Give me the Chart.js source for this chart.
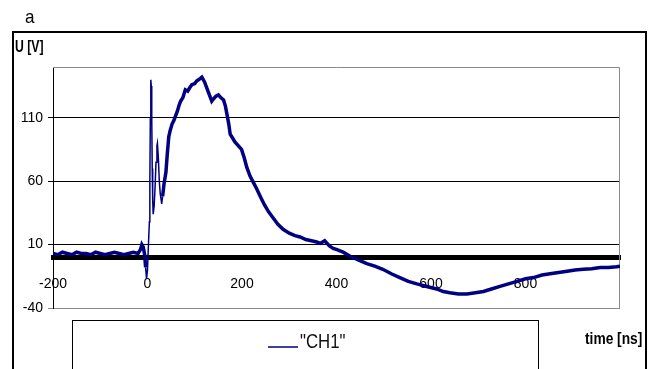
<!DOCTYPE html>
<html>
<head>
<meta charset="utf-8">
<script src="https://cdn.jsdelivr.net/npm/chart.js@4.4.1/dist/chart.umd.min.js"></script>
<style>
  html, body { margin: 0; padding: 0; background: #fff; }
  #wrap { width: 650px; height: 369px; }
</style>
</head>
<body>
<div id="wrap"><canvas id="scope"></canvas></div>
<script>
// oscilloscope trace (time in ns, voltage in V)
const timeNs = [
  -200, -190, -180, -170, -160, -150, -140, -130, -120, -110, -100, -90, -80, -70, -60, -50, -40, -30, -20,
  -15, -12, -9, -6, -4, -2, 0, 2, 4, 5, 6, 7, 8, 9, 10, 11, 12, 14, 16, 18, 20, 21, 23, 25, 27, 29, 30,
  32, 35, 39, 42, 45, 48, 52, 56, 59, 63, 67, 70, 75, 80, 85, 90, 94, 100, 104, 108, 112, 115, 118,
  121, 124, 128, 132, 136, 140, 145, 150, 155, 161, 165, 168, 172, 175, 180, 185, 192, 199, 205, 210,
  217, 224, 231, 240, 248, 256, 266, 276, 287, 300, 312, 323, 335, 347, 358, 366, 375, 385, 393, 401,
  414, 428, 446, 464, 481, 498, 516, 534, 552, 570, 591, 612, 626, 640, 658, 676, 694, 711, 728, 746,
  764, 782, 800, 817, 835, 852, 870, 888, 905, 922, 940, 958, 975, 993, 1000
];
const volts = [
  3, 2, 4, 3, 2, 4, 3, 3, 2, 4, 3, 2, 3, 4, 3, 2, 3, 4, 3,
  6, 10, 8, 2, -8, -17, -10, 10, 28, 60, 110, 140, 135, 110, 70, 45, 34, 40, 55, 75, 88, 90, 78, 60, 50, 45, 42,
  48, 58, 67, 82, 95, 100, 105, 108, 111, 115, 120, 123, 126, 132, 131, 134, 136, 137, 139, 140, 141, 142, 140,
  138, 135, 131, 127, 123, 125, 127, 128, 126, 124, 119, 113, 105, 97, 94, 91, 88, 85, 78, 71,
  64, 59, 54, 47, 41, 36, 31, 26, 22, 19, 17, 16, 14, 13, 12, 11, 13, 9, 7, 6,
  4, 1, -2, -5, -7, -9.5, -13, -16, -19, -21, -23, -25, -27, -28, -29, -29, -28, -27, -25, -23,
  -21, -19, -17, -16, -14, -13, -12, -11, -10, -9.5, -9, -8, -8, -7.5, -7
];
const yTicks = [-40, 10, 60, 110];
const seriesName = '"CH1"';

const FONT = '"Liberation Sans", Arial, sans-serif';
const NAVY = '#000080';

// the original text is horizontally squeezed, so draw it narrowed
function narrowText(ctx, text, x, y, font, sx) {
  ctx.save();
  ctx.font = font;
  ctx.translate(x, y);
  ctx.scale(sx, 1);
  ctx.fillText(text, 0, 0);
  ctx.restore();
}

const decor = {
  id: 'decor',
  beforeDraw(chart) {
    const ctx = chart.ctx;
    ctx.save();
    ctx.fillStyle = '#fff';
    ctx.fillRect(0, 0, chart.width, chart.height);
    ctx.restore();
  },
  beforeDatasetsDraw(chart) {
    const {ctx, chartArea: a} = chart;
    ctx.save();
    ctx.strokeStyle = '#8a8a8a';
    ctx.lineWidth = 1;
    ctx.beginPath();
    ctx.moveTo(a.left, a.top + 0.5);
    ctx.lineTo(a.right - 0.5, a.top + 0.5);
    ctx.lineTo(a.right - 0.5, a.bottom);
    ctx.stroke();
    ctx.restore();
  },
  afterDraw(chart) {
    const ctx = chart.ctx;
    ctx.save();
    // outer frame
    ctx.strokeStyle = '#000';
    ctx.lineWidth = 2;
    ctx.strokeRect(13, 32, 633, 400);
    ctx.fillStyle = '#000';
    ctx.textBaseline = 'alphabetic';
    ctx.textAlign = 'left';
    narrowText(ctx, 'a', 25, 23, '19px ' + FONT, 0.9);
    narrowText(ctx, 'U [V]', 15, 52, 'bold 17px ' + FONT, 0.72);
    narrowText(ctx, 'time [ns]', 585, 344, 'bold 16px ' + FONT, 0.86);
    // legend
    ctx.lineWidth = 1;
    ctx.strokeRect(72.5, 320.5, 466, 80);
    ctx.strokeStyle = NAVY;
    ctx.lineWidth = 1.5;
    ctx.beginPath();
    ctx.moveTo(268, 347);
    ctx.lineTo(298, 347);
    ctx.stroke();
    ctx.fillStyle = '#111';
    ctx.textBaseline = 'middle';
    narrowText(ctx, chart.data.datasets[0].label, 300, 342, '21px ' + FONT, 0.8);
    ctx.restore();
  }
};

const tickFont = {family: FONT, size: 14};

new Chart(document.getElementById('scope'), {
  type: 'line',
  data: {
    datasets: [{
      label: seriesName,
      data: timeNs.map((t, i) => ({x: t, y: volts[i]})),
      borderColor: NAVY,
      borderWidth: 3.5,
      pointRadius: 0,
      tension: 0,
      fill: false,
      segment: {
        borderWidth: c => (c.p0.parsed.x >= -4 && c.p1.parsed.x <= 32) ? 1.5 : 3.5
      }
    }]
  },
  options: {
    responsive: true,
    maintainAspectRatio: false,
    animation: false,
    layout: {padding: {top: 67, right: 30, bottom: 61, left: 0}},
    plugins: {legend: {display: false}, tooltip: {enabled: false}},
    scales: {
      x: {
        type: 'linear', min: -200, max: 1000,
        position: {y: 0},
        grid: {display: false, drawTicks: false},
        border: {color: '#000', width: 5},
        ticks: {display: false}
      },
      xLab: {
        axis: 'x', type: 'linear', min: -200, max: 1000,
        position: {y: 0}, z: 1,
        grid: {display: false, drawTicks: false},
        border: {display: false},
        ticks: {
          stepSize: 200, padding: 18, color: '#000', font: tickFont, maxRotation: 0,
          callback: v => v === 1000 ? '' : v
        }
      },
      y: {
        min: -40, max: 150,
        afterBuildTicks: s => { s.ticks = yTicks.map(v => ({value: v})); },
        afterFit: s => { s.width = 53; },
        grid: {
          color: c => c.tick && c.tick.value === -40 ? '#8a8a8a' : '#000',
          lineWidth: 1, tickLength: 5
        },
        border: {color: '#000', width: 1},
        ticks: {padding: 5, color: '#000', font: tickFont}
      }
    }
  },
  plugins: [decor]
});
</script>
</body>
</html>
